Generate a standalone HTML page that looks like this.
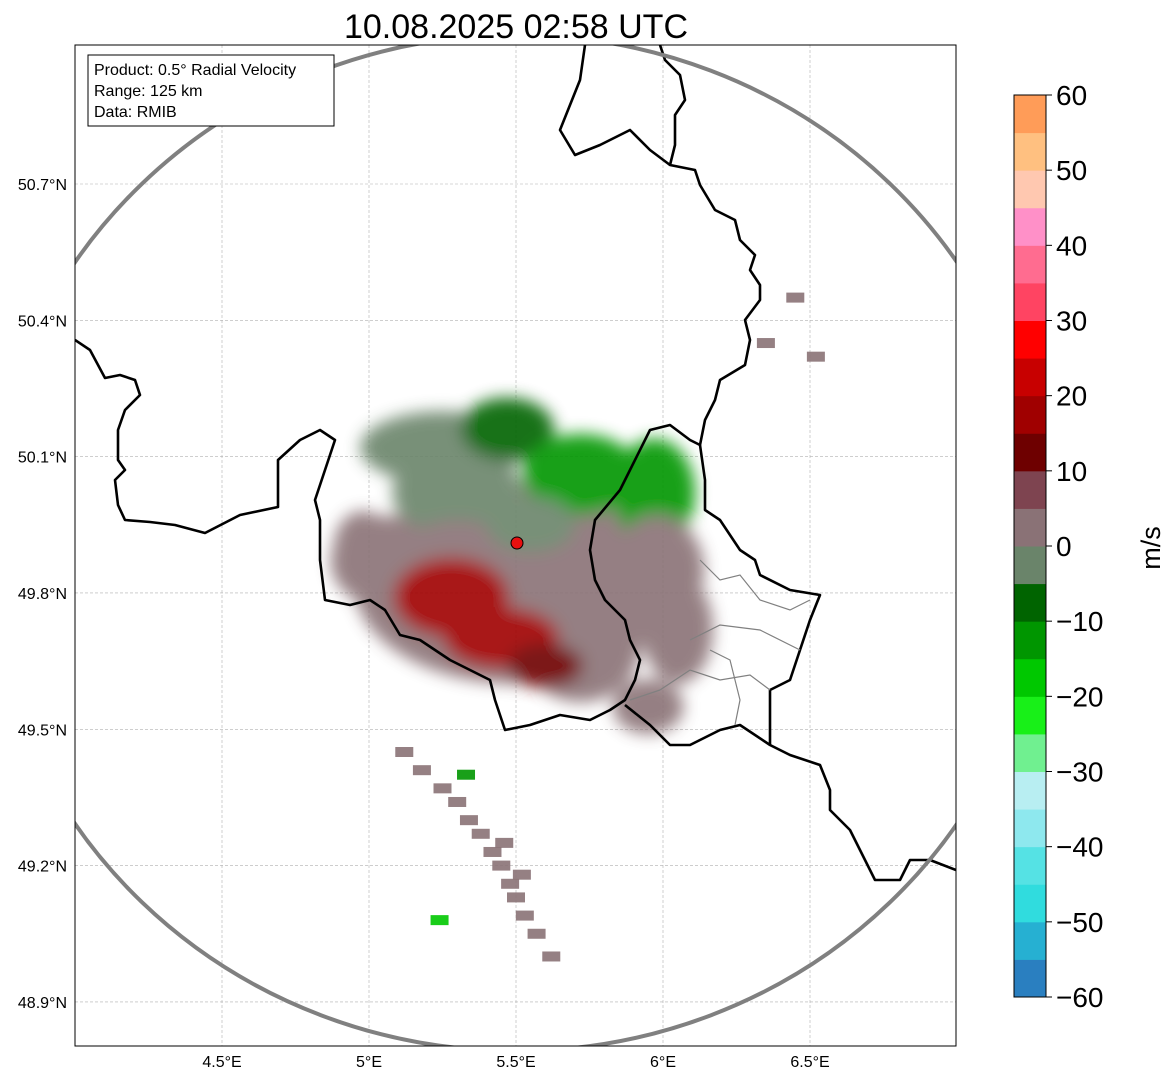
<!DOCTYPE html>
<html><head><meta charset="utf-8"><style>
html,body{margin:0;padding:0;background:#fff;}
body{width:1171px;height:1081px;overflow:hidden;font-family:"Liberation Sans",sans-serif;}
</style></head><body>
<svg id="chart" width="1171" height="1081" xmlns="http://www.w3.org/2000/svg" font-family="Liberation Sans, DejaVu Sans, sans-serif">
<defs>
<clipPath id="mapclip"><rect x="75" y="45" width="881" height="1001"/></clipPath>
<filter id="soft"><feGaussianBlur stdDeviation="8"/></filter>
</defs>
<text x="516" y="38" font-size="34" text-anchor="middle">10.08.2025 02:58 UTC</text>
<g id="grid"></g>
<g id="echo" clip-path="url(#mapclip)"></g>
<g id="borders" clip-path="url(#mapclip)"></g>
<ellipse cx="516" cy="543" rx="529" ry="508" fill="none" stroke="#808080" stroke-width="4" clip-path="url(#mapclip)"/>
<circle cx="517" cy="543" r="6" fill="#e81010" stroke="#000" stroke-width="1"/>
<rect x="75" y="45" width="881" height="1001" fill="none" stroke="#000" stroke-width="1"/>
<g>
<rect x="88" y="55" width="246" height="71" fill="#fff" stroke="#000" stroke-width="1"/>
<text x="94" y="75" font-size="16">Product: 0.5° Radial Velocity</text>
<text x="94" y="96" font-size="16">Range: 125 km</text>
<text x="94" y="117" font-size="16">Data: RMIB</text>
</g>
<g id="axes"></g>
<g id="cbar"></g>
<text transform="translate(1160,548) rotate(-90)" font-size="27" text-anchor="middle">m/s</text>
</svg>
<script>
const lonTicks=[4.5,5,5.5,6,6.5];
const lonLabels=["4.5°E","5°E","5.5°E","6°E","6.5°E"];
const latTicks=[50.7,50.4,50.1,49.8,49.5,49.2,48.9];
const latLabels=["50.7°N","50.4°N","50.1°N","49.8°N","49.5°N","49.2°N","48.9°N"];
const cbTicks=[-60,-50,-40,-30,-20,-10,0,10,20,30,40,50,60];
const cbColors=["#2a7fc0","#26b0d2","#30dcde","#55e2e4","#8ee8ee","#b8eef2","#70f090","#18f018","#00c800","#009600","#006400","#6a846a","#8a7276","#7e4450","#6e0000","#a00000","#c80000","#ff0000","#ff4462","#ff6c90","#ff90c8","#ffc8b0","#ffc080","#ff9c58"];
// blobs: lon, lat, rlon, rlat, velocity
const blobLon=[5.5,5.25,5.3,5.47,5.72,5.97,5.05,5.3,5.72,5.98,5.28,5.45,5.6,5.55,6.05,4.98,5.95];
const blobLat=[49.82,50.12,50.02,50.16,50.06,50.02,49.87,49.86,49.68,49.85,49.79,49.7,49.64,49.95,49.72,49.9,49.55];
const blobRlon=[0.55,0.28,0.22,0.16,0.2,0.14,0.18,0.22,0.2,0.16,0.2,0.2,0.13,0.15,0.12,0.1,0.12];
const blobRlat=[0.22,0.08,0.1,0.07,0.09,0.12,0.1,0.1,0.12,0.12,0.09,0.07,0.05,0.06,0.12,0.08,0.06];
const blobVel=[2,-2,-2,-8,-14,-13,3,3,2,1,17,15,14,-2,2,3,2];
// southern streak cells
const cellLon=[5.12,5.18,5.25,5.3,5.34,5.38,5.42,5.45,5.48,5.5,5.53,5.57,5.62,5.33,5.24,5.46,5.52,6.35,6.45,6.52];
const cellLat=[49.45,49.41,49.37,49.34,49.3,49.27,49.23,49.2,49.16,49.13,49.09,49.05,49.0,49.4,49.08,49.25,49.18,50.35,50.45,50.32];
const cellVel=[2,2,2,2,2,2,2,2,2,2,2,2,2,-15,-18,2,2,2,2,2];
const NS="http://www.w3.org/2000/svg";
const X=lon=>75+(lon-4)*294;
const Y=lat=>184+(50.7-lat)*454.4;
function el(t,a,p){const e=document.createElementNS(NS,t);for(const k in a)e.setAttribute(k,a[k]);p.appendChild(e);return e;}
function colorOf(v){let i=Math.floor((v+60)/5);i=Math.max(0,Math.min(23,i));return cbColors[i];}
const g=document.getElementById('grid'),ax=document.getElementById('axes');
lonTicks.forEach((l,i)=>{
 const ln=el('line',{x1:X(l),x2:X(l),y1:45,y2:1046,stroke:'#b0b0b0','stroke-width':0.6,'stroke-dasharray':'3,2'},g);
 
 const t=el('text',{x:X(l),y:1067,'font-size':16,'text-anchor':'middle'},ax);t.textContent=lonLabels[i];
 
});
latTicks.forEach((l,i)=>{
 const ln=el('line',{x1:75,x2:956,y1:Y(l),y2:Y(l),stroke:'#b0b0b0','stroke-width':0.6,'stroke-dasharray':'3,2'},g);
 
 const t=el('text',{x:67,y:Y(l)+6,'font-size':16,'text-anchor':'end'},ax);t.textContent=latLabels[i];
 
});
const ec=document.getElementById('echo');
const bg=el('g',{filter:'url(#soft)',opacity:0.9},ec);
blobLon.forEach((lo,i)=>{
 const e=el('ellipse',{cx:X(lo),cy:Y(blobLat[i]),rx:blobRlon[i]*294,ry:blobRlat[i]*454.4,fill:colorOf(blobVel[i])},bg);
 
});
cellLon.forEach((lo,i)=>{
 const r=el('rect',{x:X(lo)-9,y:Y(cellLat[i])-5,width:18,height:10,fill:colorOf(cellVel[i]),opacity:0.9},ec);
 
});
const bd=document.getElementById('borders');
const thick=[
"75,340 90,350 105,378 120,375 135,380 140,395 125,410 118,430 118,460 125,470 115,480 118,505 125,520 150,522 175,525 205,533 240,515 278,507 278,460 300,440 320,430 335,440 325,470 315,500 320,520 320,560 325,600 350,605 370,600 385,610 400,635 420,640 450,660 470,670 490,680 495,700 505,730 530,725 560,715 590,720 610,710 625,700 635,680 640,660 630,640 625,620 605,600 595,580 590,550 595,520 620,490 630,470 650,430 670,425 690,440 700,445 705,420 715,400 720,380 745,365 750,340 745,320 760,300 760,285 750,270 755,255 740,240 735,220 715,210 700,185 695,170 670,165 675,145 675,115 685,100 680,75 665,60 660,45",
"585,45 580,80 560,130 575,155 600,145 630,130 650,150 670,165",
"700,445 705,480 705,510 720,520 740,550 755,560 760,575 790,590 820,595 810,620 800,650 790,680 770,690 770,745",
"625,705 650,725 670,745 690,745 720,730 740,725 770,745 790,755 820,765 830,790 830,810 850,830 860,850 875,880 900,880 910,860 930,860 956,870"];
thick.forEach(p=>{const e=el('polyline',{points:p,fill:'none',stroke:'#000','stroke-width':2.6,'stroke-linejoin':'round'},bd);
 });
const thin=["700,560 720,580 740,575 760,600 790,610 810,600","690,640 720,625 760,630 800,650","660,690 690,670 720,680 750,675 770,690","630,700 660,690","710,650 730,660 740,700 735,725"];
thin.forEach(p=>{const e=el('polyline',{points:p,fill:'none',stroke:'#808080','stroke-width':1.2},bd);
 });
const cb=document.getElementById('cbar');
const cy=v=>997-(v+60)*(902/120);
cbColors.forEach((c,i)=>{const v=-60+i*5;
 const r=el('rect',{x:1014,y:cy(v+5),width:32,height:cy(v)-cy(v+5)+0.5,fill:c},cb);
 });
el('rect',{x:1014,y:95,width:32,height:902,fill:'none',stroke:'#000','stroke-width':1},cb);
cbTicks.forEach(v=>{el('line',{x1:1046,x2:1052,y1:cy(v),y2:cy(v),stroke:'#000'},cb);
 const t=el('text',{x:1056,y:cy(v)+10,'font-size':28},cb);t.textContent=(v<0?'\u2212'+(-v):String(v));
 });
</script>
</body></html>
